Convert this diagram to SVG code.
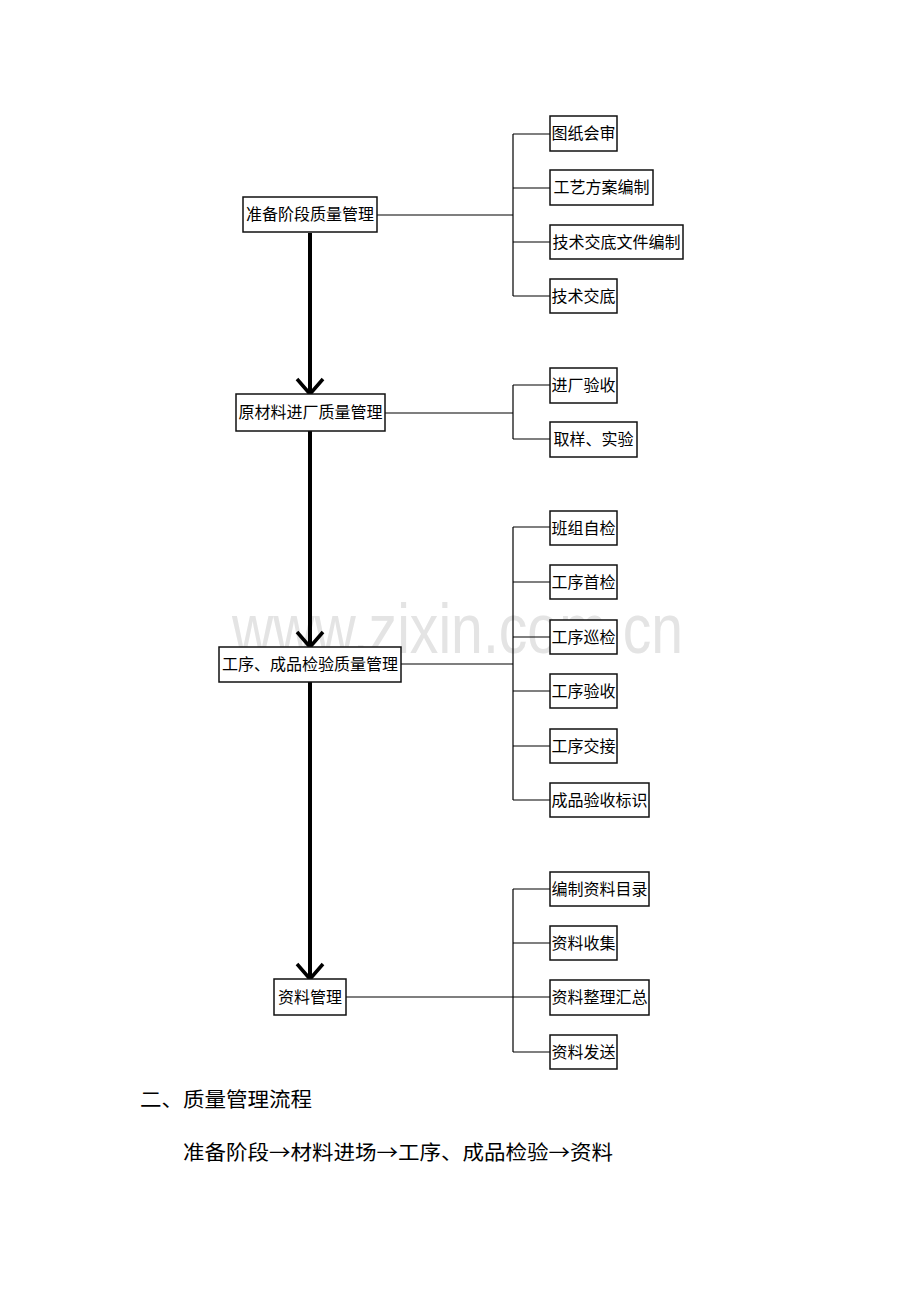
<svg xmlns="http://www.w3.org/2000/svg" width="920" height="1302" viewBox="0 0 920 1302">
<style>
.box{fill:#fff;stroke:#111;stroke-width:1.5}
.t{font-family:"Noto Sans CJK SC","Liberation Sans",sans-serif;font-size:16px;fill:#000;text-anchor:middle}
.ln{stroke:#000;stroke-width:1.2;fill:none}
.trunk{stroke:#000;stroke-width:4;fill:none}
.chev{stroke:#000;stroke-width:3.5;fill:none;stroke-linejoin:miter}
.wm{font-family:"Liberation Sans",Arial,sans-serif;font-size:71px;fill:#e4e4e4}
.bt{font-family:"Noto Sans CJK SC","Liberation Sans",sans-serif;font-size:20px;fill:#000;font-weight:400}
</style>
<rect width="920" height="1302" fill="#fff"/>
<text class="wm" x="232" y="653" textLength="451" lengthAdjust="spacingAndGlyphs">www.zixin.com.cn</text>
<g id="connectors">
  <line class="trunk" x1="310" y1="233" x2="310" y2="393"/>
  <polyline class="chev" points="297,379 310,394 323,379"/>
  <line class="trunk" x1="310" y1="431" x2="310" y2="646"/>
  <polyline class="chev" points="297,632 310,647 323,632"/>
  <line class="trunk" x1="310" y1="682" x2="310" y2="978"/>
  <polyline class="chev" points="297,964 310,979 323,964"/>
  <path class="ln" d="M377,215 H513 M513,134 V296 M513,134 H550 M513,188 H550 M513,242 H550 M513,296 H550"/>
  <path class="ln" d="M385,413 H513 M513,385 V439 M513,385 H550 M513,439 H550"/>
  <path class="ln" d="M401,664 H513 M513,527 V800 M513,527 H550 M513,582 H550 M513,637 H550 M513,691 H550 M513,746 H550 M513,800 H550"/>
  <path class="ln" d="M346,997 H513 M513,889 V1052 M513,889 H550 M513,943 H550 M513,997 H550 M513,1052 H550"/>
</g>
<g id="m1"><rect class="box" x="243" y="197" width="134" height="35"/><text class="t" x="310" y="220">准备阶段质量管理</text></g>
<g id="m2"><rect class="box" x="236" y="394" width="149" height="37"/><text class="t" x="310.5" y="418">原材料进厂质量管理</text></g>
<g id="m3"><rect class="box" x="219" y="647" width="182" height="35"/><text class="t" x="310" y="670">工序、成品检验质量管理</text></g>
<g id="m4"><rect class="box" x="274" y="979" width="72" height="36"/><text class="t" x="310" y="1003">资料管理</text></g>
<g id="r1"><rect class="box" x="550" y="116" width="67" height="35"/><text class="t" x="583.5" y="139">图纸会审</text></g>
<g id="r2"><rect class="box" x="550" y="170" width="103" height="35"/><text class="t" x="601.5" y="193">工艺方案编制</text></g>
<g id="r3"><rect class="box" x="550" y="225" width="133" height="34"/><text class="t" x="616.5" y="248">技术交底文件编制</text></g>
<g id="r4"><rect class="box" x="550" y="279" width="67" height="34"/><text class="t" x="583.5" y="302">技术交底</text></g>
<g id="r5"><rect class="box" x="550" y="368" width="67" height="35"/><text class="t" x="583.5" y="391">进厂验收</text></g>
<g id="r6"><rect class="box" x="550" y="422" width="87" height="35"/><text class="t" x="593.5" y="445">取样、实验</text></g>
<g id="r7"><rect class="box" x="550" y="511" width="67" height="34"/><text class="t" x="583.5" y="534">班组自检</text></g>
<g id="r8"><rect class="box" x="550" y="565" width="67" height="34"/><text class="t" x="583.5" y="588">工序首检</text></g>
<g id="r9"><rect class="box" x="550" y="620" width="67" height="34"/><text class="t" x="583.5" y="643">工序巡检</text></g>
<g id="r10"><rect class="box" x="550" y="674" width="67" height="34"/><text class="t" x="583.5" y="697">工序验收</text></g>
<g id="r11"><rect class="box" x="550" y="729" width="67" height="34"/><text class="t" x="583.5" y="752">工序交接</text></g>
<g id="r12"><rect class="box" x="550" y="783" width="99" height="34"/><text class="t" x="599.5" y="806">成品验收标识</text></g>
<g id="r13"><rect class="box" x="550" y="872" width="99" height="34"/><text class="t" x="599.5" y="895">编制资料目录</text></g>
<g id="r14"><rect class="box" x="550" y="926" width="67" height="34"/><text class="t" x="583.5" y="949">资料收集</text></g>
<g id="r15"><rect class="box" x="550" y="980" width="99" height="35"/><text class="t" x="599.5" y="1003">资料整理汇总</text></g>
<g id="r16"><rect class="box" x="550" y="1035" width="67" height="34"/><text class="t" x="583.5" y="1058">资料发送</text></g>
<text class="bt" x="140" y="1107" textLength="172" lengthAdjust="spacingAndGlyphs">二、质量管理流程</text>
<text class="bt" x="183" y="1160" textLength="430" lengthAdjust="spacingAndGlyphs">准备阶段→材料进场→工序、成品检验→资料</text>
</svg>
